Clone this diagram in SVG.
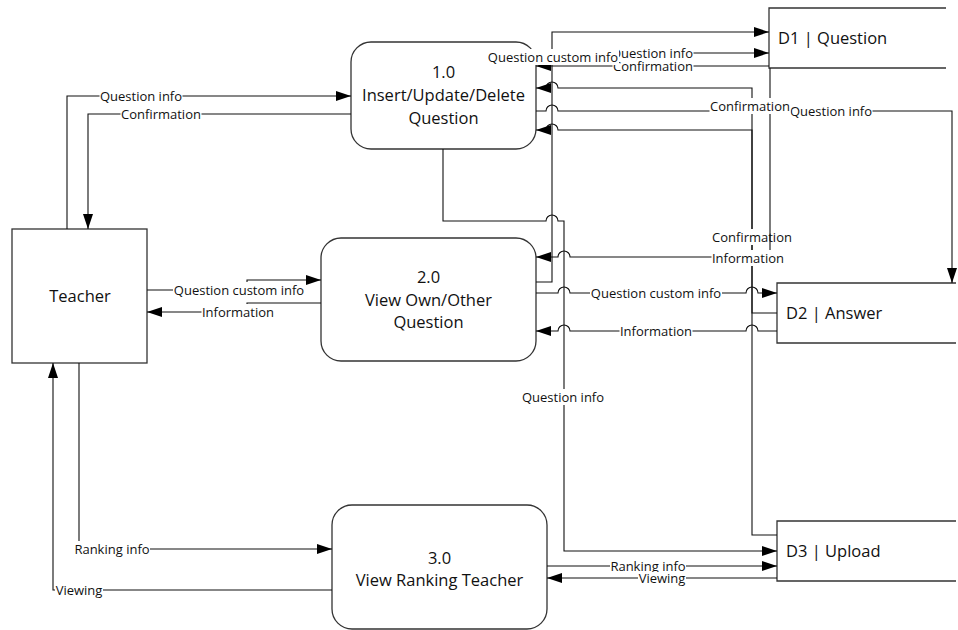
<svg xmlns="http://www.w3.org/2000/svg" width="958" height="630" viewBox="0 0 958 630">
  <defs>
    <marker id="arrow" viewBox="0 0 15 10" refX="15" refY="5" markerWidth="15" markerHeight="10" markerUnits="userSpaceOnUse" orient="auto">
      <path d="M0,0 L15,5 L0,10 z" fill="#000"/>
    </marker>
    <style>
      .box { fill: #fff; stroke: #333; stroke-width: 1.3; }
      .store { fill: none; stroke: #333; stroke-width: 1.3; }
      .flow { fill: none; stroke: #111; stroke-width: 1.1; }
      .arr { marker-end: url(#arrow); }
      .name { font-family: "Open Sans", "Noto Sans", "Liberation Sans", sans-serif; font-size: 16.5px; fill: #111; }
      .mid { text-anchor: middle; }
      .lbl { font-family: "Open Sans", "Noto Sans", "Liberation Sans", sans-serif; font-size: 13px; fill: #111; text-anchor: middle; }
      .bg { fill: #fff; }
    </style>
  </defs>
  <rect width="958" height="630" fill="#fff"/>

  <!-- external entity -->
  <g id="teacher">
    <rect class="box" x="12" y="229" width="135" height="134"/>
    <text class="name mid" x="80" y="302">Teacher</text>
  </g>

  <!-- processes -->
  <g id="p1">
    <rect class="box" x="351" y="42" width="185" height="107" rx="20"/>
    <text class="name mid" x="443.5" y="78">1.0</text>
    <text class="name mid" x="443.5" y="101">Insert/Update/Delete</text>
    <text class="name mid" x="443.5" y="123.5">Question</text>
  </g>
  <g id="p2">
    <rect class="box" x="321" y="238" width="215" height="123" rx="20"/>
    <text class="name mid" x="428.5" y="283">2.0</text>
    <text class="name mid" x="428.5" y="305.5">View Own/Other</text>
    <text class="name mid" x="428.5" y="328">Question</text>
  </g>
  <g id="p3">
    <rect class="box" x="332" y="505" width="215" height="124" rx="20"/>
    <text class="name mid" x="439.5" y="563.5">3.0</text>
    <text class="name mid" x="439.5" y="586">View Ranking Teacher</text>
  </g>

  <!-- data stores -->
  <g id="d1">
    <path class="store" d="M946,8 H769 V68 H946"/>
    <text class="name" x="778" y="44">D1 | Question</text>
  </g>
  <g id="d2">
    <path class="store" d="M956,283 H777 V343 H956"/>
    <text class="name" x="786" y="319">D2 | Answer</text>
  </g>
  <g id="d3">
    <path class="store" d="M956,521 H777 V581 H956"/>
    <text class="name" x="786" y="557">D3 | Upload</text>
  </g>

  <g id="connectors">
    <g id="flow-lines">
      <path class="flow arr" d="M67,229 V96 H351"/>
      <path class="flow arr" d="M351,114 H88 V229"/>
      <path class="flow arr" d="M147,290 H247 V280 H321"/>
      <path class="flow arr" d="M321,303 H247 V312 H147"/>
      <path class="flow arr" d="M79,363 V549 H332"/>
      <path class="flow arr" d="M332,590 H53 V363"/>
      <path class="flow arr" d="M536,282 H552 V32 H769"/>
      <path class="flow arr" d="M536,53 H769"/>
      <path class="flow arr" d="M769,66 H536"/>
      <path class="flow arr" d="M777,535 H752 V88 H558 A6,6 0 0 0 546,88 H536"/>
      <path class="flow arr" d="M536,111 H546 A6,6 0 0 1 558,111 H952 V283"/>
      <path class="flow arr" d="M777,313 H752 V130 H558 A6,6 0 0 0 546,130 H536"/>
      <path class="flow arr" d="M443,149 V221 H546 A6,6 0 0 1 558,221 H564 V551 H777"/>
      <path class="flow arr" d="M536,293 H558 A6,6 0 0 1 570,293 H746 A6,6 0 0 1 758,293 H777"/>
      <path class="flow arr" d="M777,331 H758 A6,6 0 0 0 746,331 H570 A6,6 0 0 0 558,331 H536"/>
      <path class="flow arr" d="M547,566 H777"/>
      <path class="flow arr" d="M777,578 H547"/>
    </g>

    <!-- D2 -> 1.0 label sits under the D1 -> 2.0 line -->
    <rect class="bg" x="711.5" y="229" width="81" height="16"/>
    <text class="lbl" x="752" y="241.5">Confirmation</text>

    <!-- D1 -> 2.0 Information -->
    <path class="flow arr" d="M770,68 V257 H570 A6,6 0 0 0 558,257 H536"/>

    <g id="flow-labels">
      <rect class="bg" x="99.5" y="88" width="83" height="16"/>
      <text class="lbl" x="141" y="100.5">Question info</text>
      <rect class="bg" x="120.5" y="106" width="81" height="16"/>
      <text class="lbl" x="161" y="118.5">Confirmation</text>
      <rect class="bg" x="173" y="282" width="132" height="16"/>
      <text class="lbl" x="239" y="294.5">Question custom info</text>
      <rect class="bg" x="201.5" y="304" width="73" height="16"/>
      <text class="lbl" x="238" y="316.5">Information</text>
      <rect class="bg" x="74" y="541" width="76" height="16"/>
      <text class="lbl" x="112" y="553.5">Ranking info</text>
      <rect class="bg" x="55" y="582" width="48" height="16"/>
      <text class="lbl" x="79" y="594.5">Viewing</text>

      <rect class="bg" x="521.5" y="389" width="83" height="16"/>
      <text class="lbl" x="563" y="401.5">Question info</text>
      <rect class="bg" x="590" y="285" width="132" height="16"/>
      <text class="lbl" x="656" y="297.5">Question custom info</text>
      <rect class="bg" x="619.5" y="323" width="73" height="16"/>
      <text class="lbl" x="656" y="335.5">Information</text>
      <rect class="bg" x="711.5" y="250" width="73" height="16"/>
      <text class="lbl" x="748" y="262.5">Information</text>

      <rect class="bg" x="789.5" y="103" width="83" height="16"/>
      <text class="lbl" x="831" y="115.5">Question info</text>
      <rect class="bg" x="709.5" y="98" width="81" height="16"/>
      <text class="lbl" x="750" y="110.5">Confirmation</text>

      <rect class="bg" x="610.5" y="45" width="83" height="16"/>
      <text class="lbl" x="652" y="57.5">Question info</text>
      <rect class="bg" x="612.5" y="59" width="81" height="14"/>
      <text class="lbl" x="653" y="70.5">Confirmation</text>
      <rect class="bg" x="487" y="49" width="132" height="16"/>
      <text class="lbl" x="553" y="61.5">Question custom info</text>

      <rect class="bg" x="610" y="558" width="76" height="16"/>
      <text class="lbl" x="648" y="570.5">Ranking info</text>
      <rect class="bg" x="638" y="572" width="48" height="14"/>
      <text class="lbl" x="662" y="582.5">Viewing</text>
    </g>
  </g>
</svg>
